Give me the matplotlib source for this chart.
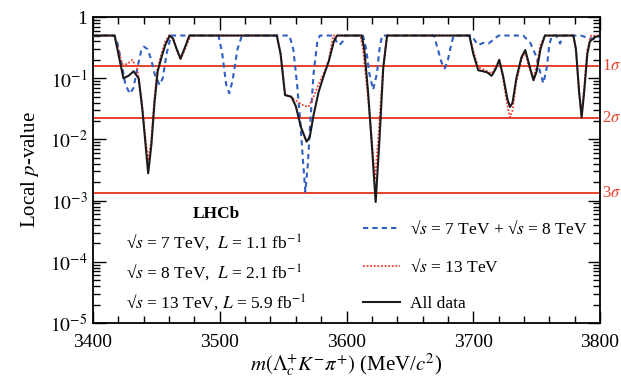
import numpy as np
import matplotlib
matplotlib.use("Agg")
import matplotlib.pyplot as plt
from matplotlib.ticker import LogLocator, MultipleLocator, NullFormatter, FixedLocator, FixedFormatter

plt.rcParams['font.family'] = ['Liberation Serif', 'DejaVu Serif']
plt.rcParams['mathtext.fontset'] = 'stix'

# All data (black)
m_all = [3400, 3417, 3420, 3424, 3428, 3432, 3436, 3439, 3441.5, 3443.5, 3446, 3448.5, 3451, 3454, 3457,
         3460.5, 3463, 3466, 3469, 3472, 3476, 3545, 3548, 3551.5, 3556.5, 3560, 3564, 3568.5, 3571, 3574,
         3578, 3582, 3586, 3590, 3592.5, 3612, 3614, 3617, 3620, 3623, 3626, 3629, 3632, 3697, 3700, 3704,
         3708, 3711, 3714.5, 3717.5, 3720.5, 3723.5, 3727, 3729, 3731, 3734, 3738, 3741, 3744, 3747.5, 3750,
         3753, 3756.5, 3779, 3781, 3783.5, 3785.5, 3787.5, 3790, 3792, 3796, 3800]
p_all = [0.5, 0.5, 0.25, 0.10, 0.11, 0.13, 0.10, 0.03, 0.008, 0.0028, 0.008, 0.04, 0.13, 0.22, 0.35,
         0.5, 0.45, 0.3, 0.21, 0.3, 0.5, 0.5, 0.25, 0.053, 0.05, 0.035, 0.016, 0.0092, 0.011, 0.025,
         0.06, 0.11, 0.19, 0.4, 0.5, 0.5, 0.3, 0.06, 0.008, 0.00095, 0.01, 0.15, 0.5, 0.5, 0.25, 0.135,
         0.13, 0.125, 0.11, 0.14, 0.2, 0.11, 0.045, 0.034, 0.04, 0.1, 0.22, 0.29, 0.17, 0.093, 0.13,
         0.3, 0.5, 0.5, 0.3, 0.06, 0.023, 0.06, 0.25, 0.4, 0.47, 0.5]

# 13 TeV (red dotted)
m_13 = [3400, 3417, 3420, 3423, 3427, 3431, 3435, 3438, 3441, 3443.5, 3446, 3448.5, 3451, 3454, 3457,
        3460, 3463, 3466, 3469, 3472, 3477, 3545, 3548, 3551.5, 3556, 3561, 3566, 3570, 3574, 3578,
        3582, 3586, 3589.5, 3611, 3613, 3616.5, 3620, 3622.5, 3625, 3628.5, 3632, 3697, 3700, 3704,
        3708, 3711, 3714.5, 3717.5, 3720.5, 3723.5, 3727, 3729, 3731, 3734, 3738, 3741, 3744, 3747.5,
        3750, 3753, 3756.5, 3779, 3781, 3783.5, 3785.5, 3787.5, 3790, 3793, 3800]
p_13 = [0.5, 0.5, 0.3, 0.17, 0.17, 0.2, 0.14, 0.05, 0.012, 0.0045, 0.01, 0.05, 0.15, 0.25, 0.4,
        0.5, 0.45, 0.3, 0.2, 0.28, 0.5, 0.5, 0.25, 0.055, 0.05, 0.042, 0.036, 0.034, 0.05, 0.08,
        0.12, 0.2, 0.5, 0.5, 0.3, 0.06, 0.01, 0.0022, 0.01, 0.12, 0.5, 0.5, 0.28, 0.15,
        0.14, 0.13, 0.12, 0.15, 0.2, 0.1, 0.035, 0.023, 0.03, 0.09, 0.2, 0.27, 0.15, 0.1,
        0.16, 0.35, 0.5, 0.5, 0.3, 0.06, 0.025, 0.07, 0.3, 0.5, 0.5]

# 7 TeV + 8 TeV (blue dashed)
m_78 = [3400, 3417, 3419, 3422, 3425.5, 3429, 3432, 3435, 3438, 3440, 3443, 3446, 3449, 3452.5, 3455,
        3458, 3461.5, 3499, 3502, 3505, 3507.5, 3510, 3514, 3517.5, 3555, 3558, 3561, 3563.5, 3565.5,
        3567.5, 3569.5, 3571.5, 3574, 3577, 3579, 3590, 3592, 3594.5, 3597, 3599, 3613, 3615.5, 3618,
        3621, 3624, 3626, 3628, 3669, 3672, 3675, 3677.5, 3680, 3682.5, 3684.5, 3699, 3701, 3704, 3708,
        3712, 3716, 3720, 3739.5, 3745, 3750, 3753, 3755.3, 3758, 3760, 3762, 3765.5, 3768.5, 3771,
        3785, 3790, 3795, 3800]
p_78 = [0.5, 0.5, 0.4, 0.2, 0.08, 0.056, 0.07, 0.15, 0.28, 0.33, 0.3, 0.2, 0.11, 0.078, 0.1,
        0.25, 0.5, 0.5, 0.25, 0.08, 0.057, 0.09, 0.3, 0.5, 0.5, 0.3, 0.08, 0.02, 0.005,
        0.0014, 0.004, 0.02, 0.12, 0.4, 0.5, 0.5, 0.4, 0.35, 0.4, 0.5, 0.5, 0.3, 0.12,
        0.065, 0.12, 0.3, 0.5, 0.5, 0.3, 0.18, 0.145, 0.2, 0.35, 0.5, 0.5, 0.42, 0.35, 0.38,
        0.37, 0.43, 0.5, 0.5, 0.38, 0.22, 0.12, 0.083, 0.15, 0.35, 0.5, 0.5, 0.37, 0.5,
        0.5, 0.46, 0.44, 0.44]

sigma_p = [0.158655, 0.02275, 0.00135]
sigma_labels = [r'1$\sigma$', r'2$\sigma$', r'3$\sigma$']

red = '#e8412c'
blue = '#2f5fc4'

fig = plt.figure(figsize=(6.21, 3.79), dpi=100)
ax = fig.add_axes([0.1498, 0.1478, 0.8164, 0.807])

for p in sigma_p:
    ax.axhline(p, color=red, lw=1.4, zorder=1)
for p, lab in zip(sigma_p, sigma_labels):
    ax.text(1.004, p, lab, transform=ax.get_yaxis_transform(), color=red,
            fontsize=12, va='center', ha='left')

ax.plot(m_78, p_78, color=blue, lw=1.5, ls=(0, (2.5, 2)), zorder=3,
        label='√' + r'$s$ = 7 TeV + ' + '√' + r'$s$ = 8 TeV')
ax.plot(m_13, p_13, color='#ff3b30', lw=1.3, ls=(0, (1, 1)), zorder=3,
        label='√' + r'$s$ = 13 TeV')
ax.plot(m_all, p_all, color='#1a1a1a', lw=1.5, zorder=4, label='All data')

ax.set_yscale('log')
ax.set_xlim(3400, 3800)
ax.set_ylim(1e-5, 1)
ax.xaxis.set_major_locator(MultipleLocator(100))
ax.xaxis.set_minor_locator(MultipleLocator(20))
ax.yaxis.set_major_locator(FixedLocator([1e-5, 1e-4, 1e-3, 1e-2, 1e-1, 1]))
ax.yaxis.set_major_formatter(FixedFormatter([r'$10^{-5}$', r'$10^{-4}$', r'$10^{-3}$',
                                             r'$10^{-2}$', r'$10^{-1}$', '1']))
ax.yaxis.set_minor_locator(LogLocator(base=10, subs=np.arange(2, 10), numticks=20))
ax.yaxis.set_minor_formatter(NullFormatter())
ax.tick_params(which='both', direction='in', top=True, right=True, labelsize=14, width=1.0)
ax.tick_params(which='major', length=9)
ax.tick_params(which='minor', length=5)
ax.tick_params(axis='x', pad=8)
ax.tick_params(axis='y', pad=4)
for s in ax.spines.values():
    s.set_linewidth(1.3)

ax.set_xlabel(r'$m(\Lambda_c^{+}K^{-}\pi^{+})$ (MeV/$c^2$)', fontsize=15, labelpad=0)
ax.set_ylabel(r'Local $p$-value', fontsize=15, labelpad=6)

ax.text(0.243, 0.355, 'LHCb', transform=ax.transAxes, fontsize=12.5, fontweight='bold',
        ha='center', va='center')
ann = ['√' + r'$s$ = 7 TeV,  $L$ = 1.1 fb$^{\mathrm{-1}}$',
       '√' + r'$s$ = 8 TeV,  $L$ = 2.1 fb$^{\mathrm{-1}}$',
       '√' + r'$s$ = 13 TeV, $L$ = 5.9 fb$^{\mathrm{-1}}$']
for i, t in enumerate(ann):
    ax.text(0.066, 0.262 - i * 0.097, t, transform=ax.transAxes, fontsize=12.5,
            ha='left', va='center')

leg = ax.legend(loc='lower left', bbox_to_anchor=(0.533, 0.035), frameon=False, fontsize=12.5,
                handlelength=2.1, handletextpad=0.6, labelspacing=1.15,
                borderpad=0, borderaxespad=0)

fig.savefig('out.png', dpi=100)
